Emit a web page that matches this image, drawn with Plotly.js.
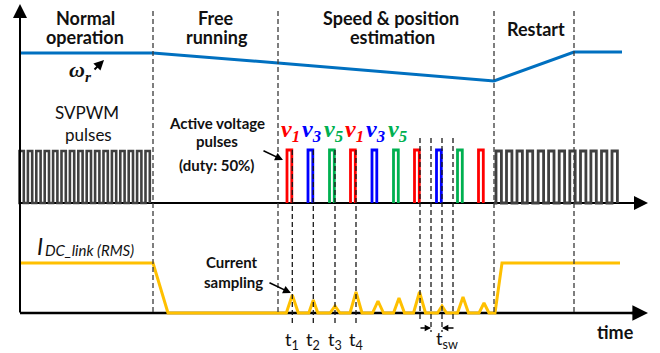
<!DOCTYPE html>
<html>
<head>
<meta charset="utf-8">
<script src="https://cdn.plot.ly/plotly-3.0.1.min.js"></script>
<style>html,body{margin:0;padding:0;background:#fff;}#chart{width:660px;height:353px;}</style>
</head>
<body>
<div id="chart"></div>
<script>
// ---------------- data (schematic time / level units) ----------------
const phaseBounds = [153, 278, 494, 574];
const phaseNames = ['Normal', 'operation', 'Free', 'running', 'Speed & position', 'estimation', 'Restart'];

const speedTime = [20, 153, 278, 494, 574, 622];
const speedLevel = [53, 53, 63, 81, 52, 52];

const svpwmNormalStarts = [19.5, 27.9, 36.3, 44.7, 53.1, 61.5, 69.9, 78.3, 86.7, 95.1, 103.5, 111.9, 120.3, 128.7, 137.1, 145.5];
const svpwmRestartStarts = [496, 506.5, 517, 527.3, 538.2, 548.6, 559.2, 569.8, 580.5, 590.9, 601.5, 612];

const activeStarts = [287, 308, 329.5, 350.5, 372, 393.5, 414.5, 436.5, 457.5, 478.5];
const activeVectors = ['v1', 'v3', 'v5', 'v1', 'v3', 'v5', 'v1', 'v3', 'v5', 'v1'];
const vectorLabels = ['1', '3', '5', '1', '3', '5'];

const samplingTimes = [292.3, 313.3, 335, 356];
const samplingLabels = ['1', '2', '3', '4'];
const switchTimes = [420, 431, 442, 453];

const currentTime = [20, 153, 168, 495, 502, 620];
const currentLevel = [263, 263, 313, 313, 263, 263];
const peakTimes = [292.3, 313.3, 335, 356, 378, 399, 419.5, 442, 463, 484];
const peakLevels = [295, 300, 306, 292, 301, 298, 292, 306, 297, 303];
const peakHalfWidths = [6, 4.5, 5, 6, 5.5, 5.5, 6, 4.5, 5.5, 5];

// ---------------- geometry constants ----------------
const BASE_MID = 203, BASE_BOT = 313, PULSE_TOP = 151, AXIS_X = 20;
const COLORS = {v1: '#FF0000', v3: '#0000FF', v5: '#00B050'};
const SANS = 'Lato, "DejaVu Sans", sans-serif';
const SERIF = '"Liberation Serif", "DejaVu Serif", serif';

function squareWave(starts, w, x0) {
  const xs = [x0], ys = [BASE_MID];
  starts.forEach(s => { xs.push(s, s, s + w, s + w); ys.push(BASE_MID, PULSE_TOP, PULSE_TOP, BASE_MID); });
  return {xs, ys};
}
function pulses(vec) {
  const xs = [], ys = [];
  activeStarts.forEach((s, i) => {
    if (activeVectors[i] !== vec) return;
    xs.push(s, s, s + 4.8, s + 4.8, null);
    ys.push(BASE_MID, PULSE_TOP - 1, PULSE_TOP - 1, BASE_MID, null);
  });
  return {xs, ys};
}
function vlines(xsIn, y0, y1) {
  const xs = [], ys = [];
  xsIn.forEach(x => { xs.push(x, x, null); ys.push(y0, y1, null); });
  return {xs, ys};
}

// current waveform with triangular sampling peaks
const cx = [], cy = [];
for (let i = 0; i < 3; i++) { cx.push(currentTime[i]); cy.push(currentLevel[i]); }
peakTimes.forEach((t, i) => {
  cx.push(t - peakHalfWidths[i], t, t + peakHalfWidths[i]);
  cy.push(BASE_BOT, peakLevels[i], BASE_BOT);
});
for (let i = 3; i < currentTime.length; i++) { cx.push(currentTime[i]); cy.push(currentLevel[i]); }

const traces = [];
function line(xs, ys, color, width, dash) {
  traces.push({x: xs, y: ys, mode: 'lines', hoverinfo: 'skip', connectgaps: false,
    line: {color: color, width: width, dash: dash || 'solid', shape: 'linear'}});
}
// baselines
line([AXIS_X, 640], [BASE_MID, BASE_MID], '#000', 2.2);
line([AXIS_X, 640], [BASE_BOT, BASE_BOT], '#000', 2.5);
// pulses
let sw = squareWave(svpwmNormalStarts, 4.3, AXIS_X);
line(sw.xs, sw.ys, '#404040', 2.6);
sw = squareWave(svpwmRestartStarts, 5.4, 494);
line(sw.xs, sw.ys, '#404040', 2.8);
['v1', 'v3', 'v5'].forEach(v => { const p = pulses(v); line(p.xs, p.ys, COLORS[v], 2.8); });
// current
line(cx, cy, '#FFC000', 3);
// speed
line(speedTime, speedLevel, '#0070C0', 3);
// dashed lines
let d = vlines(phaseBounds, 11, 315); line(d.xs, d.ys, '#3a3a3a', 1.3, '5px,3px');
d = vlines(samplingTimes, 150, 326); line(d.xs, d.ys, '#1a1a1a', 1.3, '5px,3px');
d = vlines([switchTimes[0], switchTimes[3]], 138, 320); line(d.xs, d.ys, '#1a1a1a', 1.3, '5px,3px');
d = vlines([switchTimes[1], switchTimes[2]], 138, 332); line(d.xs, d.ys, '#1a1a1a', 1.3, '5px,3px');

// ---------------- annotations ----------------
const ann = [];
function label(text, x, baseline, size, opts) {
  opts = opts || {};
  ann.push({x: x, y: baseline - size * 0.33, xref: 'x', yref: 'y', text: text, showarrow: false,
    xanchor: opts.anchor || 'center', yanchor: 'middle',
    font: {family: opts.family || SANS, size: size, color: opts.color || '#111'}});
}
function arrow(x0, y0, x1, y1, w, size, head) {
  ann.push({x: x1, y: y1, ax: x0, ay: y0, xref: 'x', yref: 'y', axref: 'x', ayref: 'y', text: '',
    showarrow: true, arrowhead: head || 2, arrowsize: size || 1, arrowwidth: w || 1.5, arrowcolor: '#000', standoff: 0});
}
// phase titles
label('<b>' + phaseNames[0] + '</b>', 85, 24, 18);
label('<b>' + phaseNames[1] + '</b>', 85, 43, 18);
label('<b>' + phaseNames[2] + '</b>', 216, 24, 18);
label('<b>' + phaseNames[3] + '</b>', 217, 43, 18);
label('<b>' + phaseNames[4] + '</b>', 391, 24, 18);
label('<b>' + phaseNames[5] + '</b>', 392, 43, 18);
label('<b>' + phaseNames[6] + '</b>', 536, 35, 18);
// omega
label('<b><i>ω<sub>r</sub></i></b>', 80, 78, 22, {family: SERIF});
arrow(93, 71, 104, 60, 2, 1, 2);
// svpwm
label('SVPWM', 87, 118, 17);
label('pulses', 88, 140, 17);
label('<b>Active voltage</b>', 217, 128, 15);
label('<b>pulses</b>', 217, 146, 15);
label('<b>(duty: 50%)</b>', 217, 170, 15);
arrow(262, 150, 283, 160, 1.6, 1, 2);
// vector labels
activeStarts.slice(0, 6).forEach((s, i) => {
  label('<b><i>v<sub>' + vectorLabels[i] + '</sub></i></b>', s + 3.5, 139, 24, {family: SERIF, color: COLORS[activeVectors[i]]});
});
// current
ann.push({x: 35, y: 246, xref: 'x', yref: 'y', text: '<i>I</i>', showarrow: false, xanchor: 'left', yanchor: 'middle',
  font: {family: SANS, size: 23, color: '#111'}});
label('<i>DC_link (RMS)</i>', 43, 255, 15, {anchor: 'left'});
label('<b>Current</b>', 232, 267, 15);
label('<b>sampling</b>', 233, 287, 15);
arrow(268, 282, 291, 293, 1.6, 1, 2);
// time axis labels
samplingTimes.forEach((t, i) => label('t<sub>' + samplingLabels[i] + '</sub>', t, 346, 18));
label('t<sub>sw</sub>', 447, 345, 18);
arrow(419, 328, 431, 328, 1.4, 0.9, 2);
arrow(455, 328, 442, 328, 1.4, 0.9, 2);
label('<b>time</b>', 615, 338, 18);
// axis arrows
arrow(AXIS_X, BASE_BOT + 1, AXIS_X, 4, 2, 1.4, 2);
arrow(630, BASE_BOT, 648, BASE_BOT, 2.4, 1.3, 2);
arrow(630, BASE_MID, 648, BASE_MID, 2, 1.4, 2);

const layout = {
  width: 660, height: 353, margin: {l: 0, r: 0, t: 0, b: 0},
  paper_bgcolor: '#fff', plot_bgcolor: '#fff', showlegend: false,
  xaxis: {range: [0, 660], visible: false, fixedrange: true},
  yaxis: {range: [353, 0], visible: false, fixedrange: true},
  annotations: ann
};
Plotly.newPlot('chart', traces, layout, {displayModeBar: false, staticPlot: true});
</script>
</body>
</html>
